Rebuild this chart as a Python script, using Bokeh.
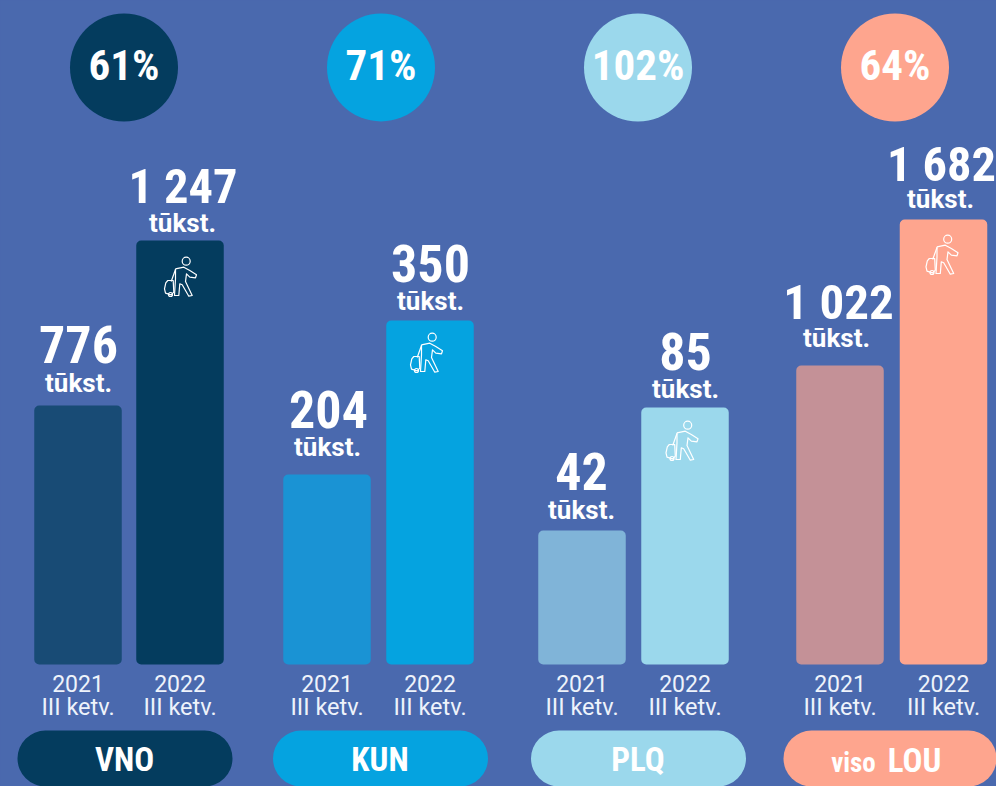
from bokeh.plotting import figure
from bokeh.models import Range1d
from bokeh.core.properties import value
from bokeh.embed import file_html
from bokeh.resources import INLINE

# ---- data
airports = ["VNO", "KUN", "PLQ", "viso LOU"]
growth_labels = ["61%", "71%", "102%", "64%"]
passengers_2021 = ["776", "204", "42", "1 022"]
passengers_2022 = ["1 247", "350", "85", "1 682"]
bar_heights_2021 = [259, 190, 134, 299]
bar_heights_2022 = [424, 344, 257, 445]
year_2021 = "2021"
year_2022 = "2022"
quarter = "III ketv."
unit = "tūkst."

# ---- styles
BG = "#4a69ae"
colors_2022 = ["#043c5e", "#05a3e0", "#9bd8ec", "#fea58e"]
colors_2021 = ["#184b75", "#1a93d4", "#80b4d8", "#c49197"]
COND = "Roboto Condensed"
REG = "Roboto"
TXT = "#eef3fb"

# ---- layout (x in page pixels; y = pixels above the bars' base line)
x_2021 = [77.5, 326.5, 581.5, 839.5]
x_2022 = [179.5, 429.5, 684.5, 943]
x_circle = [123.5, 380.5, 637.5, 894.5]
x_pill = [124.5, 380, 638, 890.5]
num_x_2021 = [78, 328, 581, 838]
num_x_2022 = [182.5, 430, 685, 941]
unit_x_2021 = [78, 327, 581, 836]
unit_x_2022 = [182, 430, 685, 940]
num_size_2021 = [52, 52, 52, 49]
num_size_2022 = [48.5, 52, 52, 48.5]
num_gap_2021 = [42, 46, 40, 45]
num_gap_2022 = [37, 38, 37, 38]
unit_gap_2021 = [13, 18, 11, 18]
unit_gap_2022 = [8, 10, 9, 11]
icon_x = [180, 426, 681.5, 941.5]
icon_top = [16, 12, 13, 15]
BAR_W = 87.5
SHIFT = 0.36  # the SVG text sits this fraction of its size under the given y


def up(baseline, size):
    return baseline + SHIFT * size


p = figure(width=996, height=786, x_range=Range1d(0, 996), y_range=Range1d(-122, 664),
           toolbar_location=None, output_backend="svg", min_border=0,
           background_fill_color=BG, border_fill_color=BG, outline_line_color=None)
p.axis.visible = False
p.grid.visible = False

# bars
p.vbar(x=x_2021, width=BAR_W, top=bar_heights_2021, bottom=0, fill_color=colors_2021,
       line_color=None, border_radius=5)
p.vbar(x=x_2022, width=BAR_W, top=bar_heights_2022, bottom=0, fill_color=colors_2022,
       line_color=None, border_radius=5)

# growth circles
p.circle(x=x_circle, y=[597] * 4, radius=54, fill_color=colors_2022, line_color=None)
p.text(x=x_circle, y=[up(584, 43)] * 4, text=growth_labels, text_color="white",
       text_font=value(COND), text_font_style="bold", text_font_size="43px",
       text_align="center", text_baseline="alphabetic")

# pills
p.hbar(y=[-96] * 4, height=60, left=[x - 107.5 for x in x_pill], right=[x + 107.5 for x in x_pill],
       fill_color=colors_2022, line_color=None, border_radius=30)
p.text(x=[x - 0.5 for x in x_pill[:3]], y=[up(-107, 33)] * 3, text=airports[:3], text_color="white",
       text_font=value(COND), text_font_style="bold", text_font_size="33px",
       text_align="center", text_baseline="alphabetic")
viso, lou = airports[3].split(" ")
p.text(x=[853], y=[up(-108, 27)], text=[viso], text_color="white", text_font=value(COND),
       text_font_style="bold", text_font_size="27px", text_align="center", text_baseline="alphabetic")
p.text(x=[914], y=[up(-108, 33)], text=[lou], text_color="white", text_font=value(COND),
       text_font_style="bold", text_font_size="33px", text_align="center", text_baseline="alphabetic")

# value labels
for xs, uxs, hs, labels, sizes, ngap, ugap in [
    (num_x_2021, unit_x_2021, bar_heights_2021, passengers_2021, num_size_2021, num_gap_2021, unit_gap_2021),
    (num_x_2022, unit_x_2022, bar_heights_2022, passengers_2022, num_size_2022, num_gap_2022, unit_gap_2022),
]:
    for x, h, label, size, g in zip(xs, hs, labels, sizes, ngap):
        p.text(x=[x], y=[up(h + g, size)], text=[label], text_color="white",
               text_font=value(COND), text_font_style="bold", text_font_size=f"{size}px",
               text_align="center", text_baseline="alphabetic")
    p.text(x=uxs, y=[up(h + g, 26) for h, g in zip(hs, ugap)], text=[unit] * 4, text_color="white",
           text_font=value(REG), text_font_style="bold", text_font_size="26px",
           text_align="center", text_baseline="alphabetic")

# axis-like labels
for xs, yr in [(x_2021, year_2021), (x_2022, year_2022)]:
    p.text(x=xs, y=[up(-27.5, 23)] * 4, text=[yr] * 4, text_color=TXT, text_font=value(REG),
           text_font_size="23px", text_align="center", text_baseline="alphabetic")
    p.text(x=xs, y=[up(-51, 23.5)] * 4, text=[quarter] * 4, text_color=TXT, text_font=value(REG),
           text_font_size="23.5px", text_align="center", text_baseline="alphabetic")

# traveller icon (outline in local units: right / down from its top-centre)
icon_paths = [
    [(-5, 12.3), (3.3, 10.7), (9.3, 14), (16, 18.3), (15, 21.3), (9.3, 20.7), (6, 17.3), (5, 25),
     (11.7, 39), (8.3, 39.7), (1.7, 28.3), (-0.7, 27.3), (-1.7, 39), (-6, 39), (-5, 22.3), (-5, 12.3)],
    [(-12.7, 24), (-7.3, 24), (-6.7, 35.7), (-9.3, 38.3), (-15, 36.7), (-16, 32.3), (-14.7, 26.3), (-12.7, 24)],
    [(-9.3, 25), (-5, 13)],
]
head = (5.7, 4.7, 4)
wheel = (-10, 38, 2)
for cx, h, top in zip(icon_x, bar_heights_2022, icon_top):
    y0 = h - top
    xs = [[cx + a for a, b in path] for path in icon_paths]
    ys = [[y0 - b for a, b in path] for path in icon_paths]
    p.multi_line(xs, ys, line_color="white", line_width=1.2, line_join="round")
    p.circle(x=[cx + head[0], cx + wheel[0]], y=[y0 - head[1], y0 - wheel[1]],
             radius=[head[2], wheel[2]], fill_color=None, line_color="white", line_width=1.2)

html = file_html(p, INLINE, title="Keleiviai")
html = html.replace("<head>", "<head><style>html,body{margin:0;padding:0;overflow:hidden;background:%s}</style>" % BG, 1)
open("out.html", "w").write(html)
